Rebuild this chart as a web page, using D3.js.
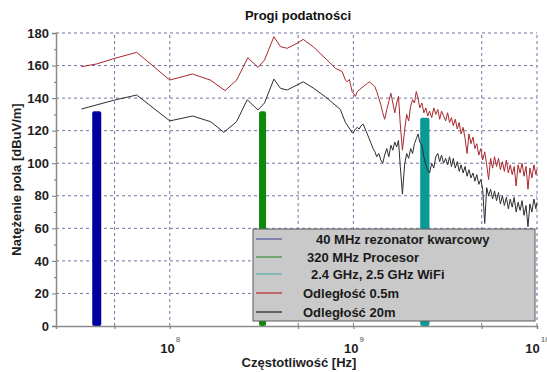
<!DOCTYPE html>
<html>
<head>
<meta charset="utf-8">
<script src="https://cdn.jsdelivr.net/npm/d3@7"></script>
<style>
	body { margin: 0; background: #fff; }
	text { font-family: "Liberation Sans", Arial, sans-serif; }
</style>
</head>
<body>
<div id="chart"></div>
<script>
// frequencies in MHz, field strength in dBuV/m
const redLowFreq = [33, 40, 50, 66, 100, 133, 167, 200, 231, 266, 302, 328, 369, 401, 436, 494, 533, 609, 719, 798, 868, 905, 925, 951, 984];
const redLowVal = [159.3, 161, 164.4, 168.1, 151.1, 154.8, 151, 144.6, 151, 164.8, 158.9, 163.4, 177.7, 171.6, 170.6, 173.7, 176.1, 171.2, 163.4, 158.3, 156.3, 151.1, 150, 151.5, 144];

const blackLowFreq = [33, 50, 66, 100, 133, 167, 197, 231, 264, 302, 328, 369, 401, 436, 533, 609, 719, 849, 905, 990];
const blackLowVal = [133.3, 138.8, 141.9, 126, 129, 125.5, 119, 125.5, 139, 132.7, 137, 151.7, 146, 145, 150, 146, 140, 133, 125, 118.5];

// shared sweep points above 1 GHz
const hfFreq = [1000, 1025, 1050, 1075, 1100, 1130, 1160, 1190, 1220, 1250, 1280, 1310, 1340, 1375, 1410, 1445, 1480, 1520, 1560, 1600,
	1640, 1680, 1720, 1760, 1800, 1850, 1900, 1950, 2000, 2050, 2100, 2150, 2200, 2250, 2300, 2360, 2420, 2480, 2540, 2600,
	2670, 2740, 2810, 2880, 2950, 3020, 3100, 3180, 3260, 3340, 3420, 3500, 3590, 3680, 3770, 3860, 3960, 4060, 4160, 4260,
	4370, 4480, 4590, 4700, 4820, 4940, 5060, 5190, 5320, 5450, 5590, 5730, 5870, 6020, 6170, 6320, 6480, 6640, 6810, 6980,
	7150, 7330, 7510, 7700, 7890, 8090, 8290, 8500, 8710, 8930, 9150, 9380, 9620, 9860, 10000];
const redHf = [143, 141, 144, 145, 146, 147, 148, 149, 150, 149, 148, 147, 144, 140, 136, 131, 127, 133, 138, 143,
	137, 131, 137, 141, 124, 108, 120, 130, 126, 135, 139, 137, 144, 140, 134, 137, 131, 134, 129, 132,
	128, 134, 130, 133, 127, 132, 129, 126, 131, 125, 128, 123, 127, 121, 125, 118, 122, 115, 106, 118,
	112, 116, 109, 112, 105, 109, 102, 107, 99, 90, 103, 97, 104, 98, 103, 96, 101, 95, 102, 94,
	99, 93, 98, 86, 99, 94, 100, 92, 98, 84, 97, 91, 99, 93, 96];
const blackHf = [119, 121, 122, 121, 123, 124, 121, 118, 115, 112, 109, 107, 104, 106, 102, 100, 105, 109, 104, 111,
	108, 113, 110, 114, 98, 81, 99, 106, 103, 109, 106, 112, 115, 118, 113, 111, 104, 99, 96, 94,
	100, 97, 104, 106, 101, 105, 100, 103, 99, 104, 98, 103, 97, 101, 95, 99, 94, 98, 92, 96,
	91, 94, 89, 93, 87, 90, 84, 63, 85, 80, 84, 78, 83, 77, 82, 75, 80, 74, 79, 72,
	78, 73, 79, 70, 76, 71, 77, 68, 74, 61, 75, 70, 78, 72, 76];

// marked sources: frequency (MHz) and bar height
const sourceFreq = [40, 320, 2400, 2500];
const sourceVal = [132, 132, 128, 128];
const sourceColor = ["#0000a0", "#0c8a0c", "#0a9a96", "#0a9a96"];
const sourceWidth = [9, 7, 6, 6];

const legendLabels = ["40 MHz rezonator kwarcowy", "320 MHz Procesor", "2.4 GHz, 2.5 GHz WiFi", "Odległość 0.5m", "Odległość 20m"];
const legendColors = ["#6a6aa8", "#5a9a5a", "#6ab4b4", "#b84848", "#404040"];

const yTicks = [0, 20, 40, 60, 80, 100, 120, 140, 160, 180];
const yMinor = [10, 30, 50, 70, 90, 110, 130, 150, 170];
const xTicks = [1e8, 1e9, 1e10];
const xGrid = [5e7, 1e8, 5e8, 1e9, 5e9, 1e10];

const W = 547, H = 372;
const margin = { top: 33, right: 10, bottom: 46, left: 56 };

const svg = d3.select("#chart").append("svg").attr("width", W).attr("height", H);

const x = d3.scaleLog().domain([2.4e7, 1e10]).range([margin.left, W - margin.right]);
const y = d3.scaleLinear().domain([0, 180]).range([H - margin.bottom, margin.top]);

// grid
const grid = svg.append("g").attr("stroke", "#7272a6").attr("stroke-dasharray", "3,3").attr("stroke-width", 1);
grid.selectAll(".gy").data(yTicks.slice(1)).join("line")
	.attr("x1", x.range()[0]).attr("x2", x.range()[1])
	.attr("y1", d => y(d)).attr("y2", d => y(d));
grid.selectAll(".gx").data(xGrid).join("line")
	.attr("x1", d => x(d)).attr("x2", d => x(d))
	.attr("y1", y(0)).attr("y2", y(180));

// source bars
svg.append("g").selectAll("rect").data(sourceFreq).join("rect")
	.attr("x", (d, i) => x(d * 1e6) - sourceWidth[i] / 2)
	.attr("width", (d, i) => sourceWidth[i])
	.attr("y", (d, i) => y(sourceVal[i]))
	.attr("height", (d, i) => y(0) - y(sourceVal[i]))
	.attr("rx", 2)
	.attr("fill", (d, i) => sourceColor[i]);

function series(lowF, lowV, hfV) {
	const pts = lowF.map((f, i) => [f, lowV[i]]);
	return pts.concat(hfFreq.map((f, i) => [f, hfV[i]]));
}
const line = d3.line().x(d => x(d[0] * 1e6)).y(d => y(d[1]));

svg.append("path").datum(series(redLowFreq, redLowVal, redHf))
	.attr("d", line).attr("fill", "none").attr("stroke", "#a8282e").attr("stroke-width", 1);
svg.append("path").datum(series(blackLowFreq, blackLowVal, blackHf))
	.attr("d", line).attr("fill", "none").attr("stroke", "#2e2e2e").attr("stroke-width", 1);

// axes
const yAxis = svg.append("g").attr("transform", `translate(${margin.left},0)`)
	.call(d3.axisLeft(y).tickValues(yTicks).tickSize(4).tickPadding(3));
svg.append("g").attr("transform", `translate(${margin.left},0)`)
	.call(d3.axisLeft(y).tickValues(yMinor).tickSize(2).tickFormat(""))
	.call(g => g.select(".domain").remove());
const xAxis = svg.append("g").attr("transform", `translate(0,${y(0)})`)
	.call(d3.axisBottom(x).tickValues(xGrid).tickSize(3).tickFormat(""));
svg.append("g").attr("transform", `translate(0,${y(0)})`)
	.call(d3.axisBottom(x).tickValues(xTicks).tickSize(0).tickPadding(18).tickFormat(""))
	.call(g => g.select(".domain").remove())
	.selectAll(".tick text").each(function(d) {
		const t = d3.select(this).text("10");
		t.append("tspan").attr("dy", -11).attr("dx", 1).attr("font-size", 8).attr("fill", "#888").text(Math.round(Math.log10(d)));
	});

svg.selectAll(".domain").attr("stroke", "#8a8a8a").attr("stroke-width", 1.5);
svg.selectAll(".tick line").attr("stroke", "#777");
svg.selectAll(".tick text").attr("font-size", 13).attr("font-weight", "bold").attr("fill", "#1e1e1e")
	.attr("font-family", "'Liberation Sans', Arial, sans-serif");

// titles
svg.append("text").attr("x", 298).attr("y", 20).attr("text-anchor", "middle")
	.attr("font-size", 13).attr("font-weight", "bold").attr("fill", "#111").text("Progi podatności");
svg.append("text").attr("x", 299).attr("y", 367).attr("text-anchor", "middle")
	.attr("font-size", 13).attr("font-weight", "bold").attr("fill", "#1e1e1e").text("Częstotliwość [Hz]");
svg.append("text").attr("transform", `translate(21,${(y(0) + y(180)) / 2}) rotate(-90)`)
	.attr("text-anchor", "middle").attr("font-size", 13).attr("font-weight", "bold").attr("fill", "#1e1e1e")
	.text("Natężenie pola [dBuV/m]");

// legend
const lg = svg.append("g");
lg.append("rect").attr("x", 253).attr("y", 229).attr("width", 282).attr("height", 92)
	.attr("fill", "#c9c9c9").attr("stroke", "#5a5a5a").attr("stroke-width", 1);
const rowY = [239, 257, 274, 293, 312];
const textX = [316, 307, 311, 303, 303];
legendLabels.forEach((lab, i) => {
	lg.append("line").attr("x1", 256).attr("x2", 282).attr("y1", rowY[i]).attr("y2", rowY[i])
		.attr("stroke", legendColors[i]).attr("stroke-width", 1.5);
	lg.append("text").attr("x", textX[i]).attr("y", rowY[i] + 5)
		.attr("font-size", 13).attr("font-weight", "bold").attr("fill", "#1a1a1a").text(lab);
});
</script>
</body>
</html>
